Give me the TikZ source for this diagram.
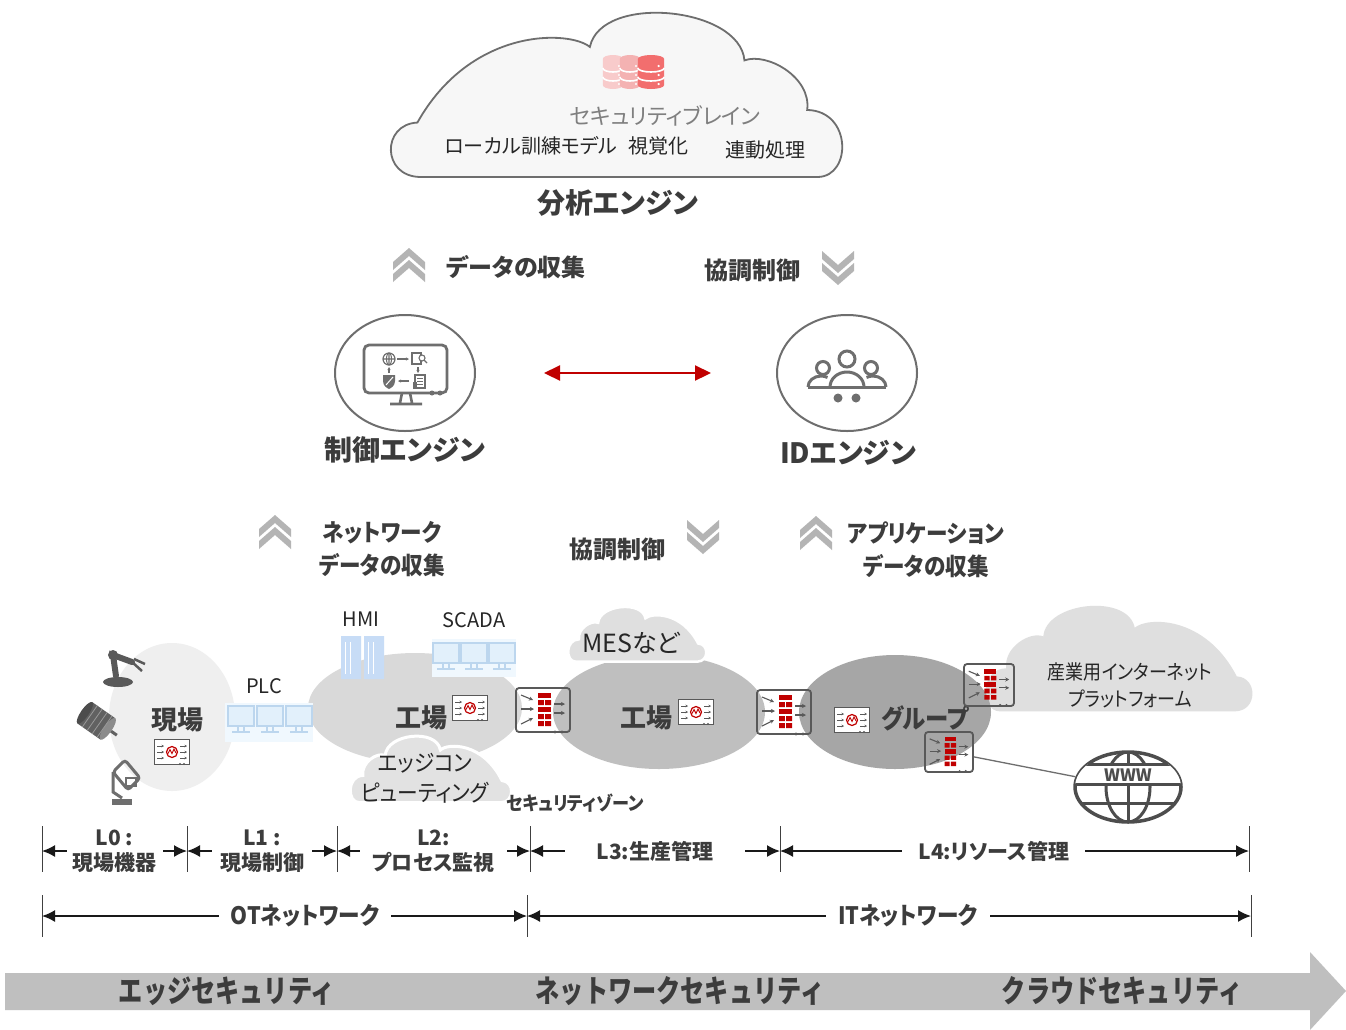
\documentclass[tikz,border=0pt]{standalone}
\usepackage{fontspec}
\setmainfont{Noto Sans CJK JP}[RawFeature=+palt]
\newfontfamily\narrowjp{Noto Sans CJK JP}[RawFeature=+palt, FakeStretch=0.9]
\newfontfamily\slimjp{Noto Sans CJK JP}[FakeStretch=0.78]
\usetikzlibrary{arrows.meta,shapes.geometric,positioning}

\newcommand\fsz[2]{\fontsize{#1}{#2}\selectfont}

\definecolor{txt}{HTML}{3C3C3C}
\definecolor{ink}{HTML}{262626}
\definecolor{soft}{HTML}{7F7F7F}
\definecolor{outl}{HTML}{6E6E6E}
\definecolor{icon}{HTML}{595959}
\definecolor{chev}{HTML}{B4B4B4}
\definecolor{fwred}{HTML}{C00000}
\definecolor{scrfill}{HTML}{E2F0FB}
\definecolor{scrline}{HTML}{BCD6EE}
\definecolor{scrbg}{HTML}{F0F8FE}
\definecolor{tower}{HTML}{C7DCF6}
\definecolor{blobA}{HTML}{EFEFEF}
\definecolor{blobB}{HTML}{D9D9D9}
\definecolor{blobC}{HTML}{BFBFBF}
\definecolor{blobD}{HTML}{A6A6A6}
\definecolor{mist}{HTML}{DFDFDF}
\definecolor{bar}{HTML}{BFBFBF}
\definecolor{dbA}{HTML}{F8CBCB}
\definecolor{dbB}{HTML}{F4B2B2}
\definecolor{dbC}{HTML}{F26E6E}
\definecolor{globe}{HTML}{4D4D4D}

\begin{document}
\begin{tikzpicture}[x=1pt, y=-1pt,
    bigtxt/.style={font=\bfseries\fsz{28}{30}, text=txt, inner sep=0},
    midtxt/.style={font=\bfseries\fsz{24}{33}, text=txt, align=center, inner sep=0},
    midnarrow/.style={font=\narrowjp\bfseries\fsz{24}{33}, text=txt, align=center, inner sep=0},
    lbl/.style={font=\fsz{20}{27}, text=ink, align=center, inner sep=0},
    placetxt/.style={font=\bfseries\fsz{26}{28}, text=txt, inner sep=0},
    blob/.style={ellipse, inner sep=0},
    engine/.style={ellipse, draw=outl, line width=2, fill=white, minimum width=140, minimum height=116},
    fwbox/.style={draw=icon, line width=1.8, rounded corners=3, minimum width=54, minimum height=44, inner sep=0},
    sensor/.style={draw=icon, line width=1.3, fill=white, minimum width=35, minimum height=25, inner sep=0},
    lvltick/.style={draw=black!75, line width=0.8},
    dimline/.style={{Latex[length=13pt,width=12pt]}-{Latex[length=13pt,width=12pt]}, line width=1.6, draw=black!90},
    lvl/.style={font=\bfseries\fsz{21}{25}, text=txt, align=center, fill=white, inner ysep=1},
    net/.style={font=\narrowjp\bfseries\fsz{24}{26}, text=txt, fill=white, inner ysep=1, inner xsep=12},
    secu/.style={font=\slimjp\bfseries\fsz{31}{32}, text=txt, inner sep=0},
    biarrow/.style={{Triangle[length=16pt,width=15pt]}-{Triangle[length=16pt,width=15pt]}, line width=2.2, draw=fwred},
    sarr/.style={-{Stealth[length=2.5pt,width=2.5pt]}, line width=0.7, draw=icon},
    fwarr/.style={-{Stealth[length=4pt,width=4pt]}, line width=1.1, draw=icon},
    arrsm/.style={-{Stealth[length=3pt,width=3pt]}, line width=1.1, draw=outl},
    chevup/.pic={
      \fill[chev] (-16,-4) -- (0,-18) -- (16,-4) -- (16,4) -- (0,-10) -- (-16,4) -- cycle;
      \fill[chev] (-16,8) -- (0,-6) -- (16,8) -- (16,16) -- (0,2) -- (-16,16) -- cycle;
    },
    cloudpath/.pic={
      \path[pic actions] (0.056,0.994) -- (0.944,0.994)
        .. controls (1.02,0.99) and (1.02,0.60) .. (0.92,0.595)
        .. controls (0.93,0.40) and (0.83,0.25) .. (0.78,0.30)
        .. controls (0.77,-0.02) and (0.46,-0.10) .. (0.435,0.22)
        .. controls (0.39,0.12) and (0.17,0.10) .. (0.05,0.67)
        .. controls (-0.03,0.68) and (-0.03,0.99) .. (0.056,0.994) -- cycle;
    },
    dbcyl/.pic={
      \path[pic actions] (-12,-13) -- (-12,13)
        arc[start angle=180, end angle=0, x radius=12, y radius=4] -- (12,-13)
        arc[start angle=0, end angle=-180, x radius=12, y radius=4] -- cycle;
      \draw[white, line width=1.6] (-12,-4) arc[start angle=180, end angle=0, x radius=12, y radius=4]
        (-12,5) arc[start angle=180, end angle=0, x radius=12, y radius=4];
      \fill[white] (7,-6) circle (1.2) (7,3) circle (1.2) (7,12) circle (1.2);
    },
    fwin/.pic={
      \foreach \y in {-17,-3} \fill[fwred] (-5,\y) rectangle (8,\y+5);
      \foreach \y in {-10,4,11} \fill[fwred] (-5,\y) rectangle (0.8,\y+5) (2.2,\y) rectangle (8,\y+5);
      \draw[fwarr] (-22,-15) -- (-10,-10);
      \draw[fwarr] (-22,-1) -- (-9,-1);
      \draw[fwarr] (-22,14) -- (-10,8);
      \draw[fwarr] (11,-6) -- (22,-6);
      \draw[fwarr] (11,3) -- (22,3);
      \fill[icon] (12,22) circle (1.6) (19,22) circle (1.6);
    },
    wave/.pic={
      \foreach \y in {-6,0,6} {
        \draw[sarr] (-15,\y) -- (-8,\y);
        \draw[sarr] (8,\y) -- (15,\y);
      }
      \draw[fwred, line width=1.2, fill=white] (0,0) circle (5.5);
      \draw[fwred, line width=0.9] (-4,1.5) -- (-2,-2.5) -- (0,1.5) -- (2,-3) -- (4,1);
      \fill[icon] (8,12) circle (1.2) (12,12) circle (1.2);
    },
    screen/.pic={
      \draw[scrline, fill=scrfill, line width=1.5] (-13,-13) rectangle (13,7);
      \draw[scrline, line width=1.5] (-3,7) -- (-3,12) (3,7) -- (3,12) (-9,13) -- (9,13);
    }
]

\fill[white] (0,0) rectangle (1346,1029);
\useasboundingbox (0,0) rectangle (1346,1029);

% analysis engine
\pic (sky) at (395,10) [xscale=448, yscale=168, draw=outl, line width=1.8, fill=black!3] {cloudpath};
\pic at (613,72) [xscale=0.85, fill=dbA] {dbcyl};
\pic at (630,72) [xscale=0.85, fill=dbB] {dbcyl};
\pic at (651,72) [xscale=1.1, fill=dbC] {dbcyl};
\node (brain) at (665,116) [font=\fsz{22}{24}, text=soft, inner sep=0] {セキュリティブレイン};
\node (local) at (531,146) [lbl] {ローカル訓練モデル};
\node (vis) at (658,146) [lbl] {視覚化};
\node (linked) at (765,150) [lbl] {連動処理};
\node (analysis) at (618,203) [bigtxt] {分析エンジン};

\pic at (409,266) {chevup};
\node (collect) at (516,267) [midtxt] {データの収集};
\node (coop) at (752,270) [midtxt] {協調制御};
\pic at (838,267) [yscale=-1] {chevup};

% control and ID engines
\node (ctrl) at (405,373) [engine] {};
\node (id) at (847,373) [engine] {};
\node (ctrllbl) at (405,450) [bigtxt] {制御エンジン};
\node (idlbl) at (848,453) [bigtxt] {IDエンジン};
\draw[biarrow, shorten <=68pt, shorten >=65pt] (ctrl.east) -- (id.west);

\begin{scope}[shift={(405,373)}]
  \draw[outl, line width=2.8, rounded corners=5] (-41,-28) rectangle (42,20);
  \draw[outl, line width=2.6] (-3,20) -- (-5,30) (5,20) -- (7,30) (-15,31) -- (17,31);
  \fill[outl] (27,20) circle (2.5) (35,20) circle (2.5);
  \draw[outl, line width=1.2] (-16,-14) circle (6) (-22,-14) -- (-10,-14) (-16,-20) -- (-16,-8);
  \draw[outl, line width=1] (-16,-14) ellipse [x radius=2.5, y radius=6];
  \draw[arrsm] (-8,-14) -- (4,-14);
  \draw[outl, line width=1.2] (7,-20) rectangle (16,-9);
  \draw[outl, line width=1.1, fill=white] (17,-15) circle (3);
  \draw[outl, line width=1.1] (19,-13) -- (22,-10);
  \draw[arrsm] (13,-6) -- (13,0);
  \draw[outl, line width=1.2, fill=white] (10,2) rectangle (20,15);
  \draw[outl, line width=0.7] (12,5) -- (18,5) (12,8) -- (18,8) (12,11) -- (18,11);
  \fill[outl] (8,9) rectangle (12,16);
  \draw[arrsm] (4,8) -- (-7,8);
  \fill[outl] (-22,2) -- (-10,2) -- (-10,8) .. controls (-10,13) and (-14,15) .. (-16,16)
    .. controls (-18,15) and (-22,13) .. (-22,8) -- cycle;
  \draw[white, line width=1] (-19,12) -- (-12,4);
  \draw[arrsm] (-16,0) -- (-16,-6);
\end{scope}

\begin{scope}[shift={(847,373)}]
  \draw[outl, line width=3] (0,-14) circle (8) (-24,-5) circle (6.5) (24,-5) circle (6.5);
  \draw[outl, line width=3] (-17,14) arc[start angle=180, end angle=360, x radius=17, y radius=15];
  \draw[outl, line width=3] (-39,14) arc[start angle=180, end angle=300, x radius=13, y radius=11];
  \draw[outl, line width=3] (39,14) arc[start angle=0, end angle=-120, x radius=13, y radius=11];
  \draw[outl, line width=3] (-39,14) -- (39,14);
  \fill[outl] (-9,25) circle (4.5) (9,25) circle (4.5);
\end{scope}

\pic at (275,533) {chevup};
\node (netdata) at (382,549) [midnarrow] {ネットワーク\\データの収集};
\node (coop2) at (617,549) [midtxt] {協調制御};
\pic at (703,536) [yscale=-1] {chevup};
\pic at (816,534) {chevup};
\node (appdata) at (926,550) [midnarrow] {アプリケーション\\データの収集};

% zones
\pic (iiot) at (1250,604) [xscale=-265, yscale=108, fill=mist] {cloudpath};
\node (genba) at (172,717) [blob, fill=blobA, minimum width=126, minimum height=148] {};
\node (fab1) at (415,708) [blob, fill=blobB, minimum width=214, minimum height=110] {};
\node (fab2) at (659,712) [blob, fill=blobC, minimum width=212, minimum height=114] {};
\node (grp) at (895,712) [blob, fill=blobD, minimum width=192, minimum height=114] {};
\pic (mes) at (705,606) [xscale=-137, yscale=56, fill=mist, draw=white, line width=2.5] {cloudpath};
\pic (edgec) at (510,735) [xscale=-160, yscale=68, fill=mist!90!white, draw=white, line width=3] {cloudpath};

% field devices
\fill[icon] (118,682) ellipse [x radius=15, y radius=5];
\draw[icon, line width=6, line cap=round] (116,676) -- (113,655) -- (132,662);
\draw[icon, line width=2.5] (132,662) -- (142,671) (134,659) -- (145,664);
\fill[icon] (113,655) circle (5);
\begin{scope}[shift={(98,722)}, rotate=-35]
  \fill[black!62] (-16,-13) rectangle (12,13);
  \fill[black!45] (12,0) ellipse [x radius=4, y radius=13];
  \fill[black!70] (-16,0) ellipse [x radius=4, y radius=13];
  \draw[black!62, line width=3] (16,0) -- (23,0);
  \foreach \k in {-10,-4,2,8} \draw[black!40, line width=0.8] (\k,-13) -- (\k,13);
\end{scope}
\draw[outl, line width=3, rounded corners=3] (113,772) -- (125,760) -- (140,778) -- (128,790) -- cycle;
\draw[outl, line width=2.5] (126,778) rectangle (136,786);
\draw[outl, line width=3] (113,772) -- (113,792) -- (122,798);
\fill[outl] (112,799) rectangle (132,805);

\node (genbalbl) at (177,720) [placetxt] {現場};
\node (snsA) at (172,752) [sensor] {};
\pic at (snsA) {wave};

\node (plc) at (269,722) [fill=scrbg, minimum width=88, minimum height=39, inner sep=0] {};
\foreach \x in {241,270,299} \pic at (\x,719) {screen};
\node (plclbl) at (264,686) [lbl] {PLC};

\node (hmi) at (362,657) [minimum width=45, minimum height=45, inner sep=0] {};
\fill[tower] (341,636) rectangle (361,679) (364,636) rectangle (384,679);
\draw[white, line width=1] (345,642) -- (345,674) (350,642) -- (350,674) (368,642) -- (368,674) (373,642) -- (373,674);
\node (hmilbl) at (361,619) [lbl] {HMI};

\node (scada) at (474,658) [fill=scrbg, minimum width=84, minimum height=38, inner sep=0] {};
\foreach \x in {446,474,502} \pic at (\x,656) {screen};
\node (scadalbl) at (474,620) [lbl] {SCADA};

\node (fab1lbl) at (421,718) [placetxt] {工場};
\node (snsB) at (470,708) [sensor] {};
\pic at (snsB) {wave};
\node (edgelbl) at (425,778) [font=\narrowjp\fsz{23}{30}, text=ink, align=center, inner sep=0] {エッジコン\\ピューティング};
\node (zone) at (575,803) [font=\narrowjp\bfseries\fsz{19}{21}, text=txt, inner sep=0] {セキュリティゾーン};

\node (meslbl) at (631,643) [font=\fsz{25}{27}, text=ink, inner sep=0] {MESなど};
\node (fab2lbl) at (646,718) [placetxt] {工場};
\node (snsC) at (696,712) [sensor] {};
\pic at (snsC) {wave};

\node (snsD) at (852,720) [sensor] {};
\pic at (snsD) {wave};
\node (grplbl) at (925,718) [font=\narrowjp\bfseries\fsz{26}{28}, text=txt, inner sep=0] {グループ};

\node (iiotlbl) at (1130,685) [font=\narrowjp\fsz{20}{27}, text=ink, align=center, inner sep=0] {産業用インターネット\\プラットフォーム};

% firewalls
\node (fw1) at (543,710) [fwbox] {};
\pic at (fw1) {fwin};
\node (fw2) at (784,712) [fwbox] {};
\pic at (fw2) {fwin};
\node (fw3) at (989,685) [fwbox, minimum width=50, minimum height=42] {};
\pic[scale=0.92] at (fw3) {fwin};
\node (fw4) at (949,752) [fwbox, minimum width=48, minimum height=40] {};
\pic[scale=0.88] at (fw4) {fwin};

% internet
\node (www) at (1128,787) [ellipse, draw=globe, line width=3.5, minimum width=106, minimum height=70, inner sep=0] {};
\begin{scope}
  \clip (1128,787) ellipse [x radius=53, y radius=35];
  \draw[globe, line width=3] (1128,787) ellipse [x radius=22, y radius=35];
  \draw[globe, line width=3] (1128,752) -- (1128,822) (1070,803) -- (1190,803);
  \fill[white] (1070,764) rectangle (1190,784);
  \draw[globe, line width=3] (1070,764) -- (1190,764) (1070,784) -- (1190,784);
\end{scope}
\node (wwwlbl) at (1128,781) [anchor=base, font=\bfseries\fsz{17}{18}, text=globe, inner sep=0] {WWW};
\draw[outl, line width=1.3] (fw4) -- (www);

% level scale
\foreach \n/\x in {0/42, 1/187, 2/337, 3/530, 4/780, 5/1249} {
  \coordinate (t\n) at (\x,851);
  \draw[lvltick] (\x,826) -- (\x,872);
}
\draw[dimline] (t0) -- (t1) node[midway, lvl, inner xsep=6] (l0) {L0 :\\現場機器};
\draw[dimline] (t1) -- (t2) node[midway, lvl, inner xsep=8] (l1) {L1 :\\現場制御};
\draw[dimline] (t2) -- (t3) node[midway, lvl, inner xsep=12] (l2) {L2:\\プロセス監視};
\draw[dimline] (t3) -- (t4) node[midway, lvl, inner xsep=32] (l3) {L3:生産管理};
\draw[dimline] (t4) -- (t5) node[pos=0.456, lvl, inner xsep=16] (l4) {L4:リソース管理};

\foreach \n/\x in {0/42, 1/527, 2/1251} {
  \coordinate (n\n) at (\x,916);
  \draw[lvltick] (\x,895) -- (\x,937);
}
\draw[dimline] (n0) -- (n1) node[pos=0.542, net] (ot) {OTネットワーク};
\draw[dimline] (n1) -- (n2) node[pos=0.526, net] (it) {ITネットワーク};

% security layers
\fill[bar] (5,973) -- (1310,973) -- (1310,952) -- (1346,991) -- (1310,1030) -- (1310,1010) -- (5,1010) -- cycle;
\node (edgesec) at (227,991) [secu] {エッジセキュリティ};
\node (netsec) at (680,991) [secu] {ネットワークセキュリティ};
\node (cloudsec) at (1122,991) [secu] {クラウドセキュリティ};

\end{tikzpicture}
\end{document}
